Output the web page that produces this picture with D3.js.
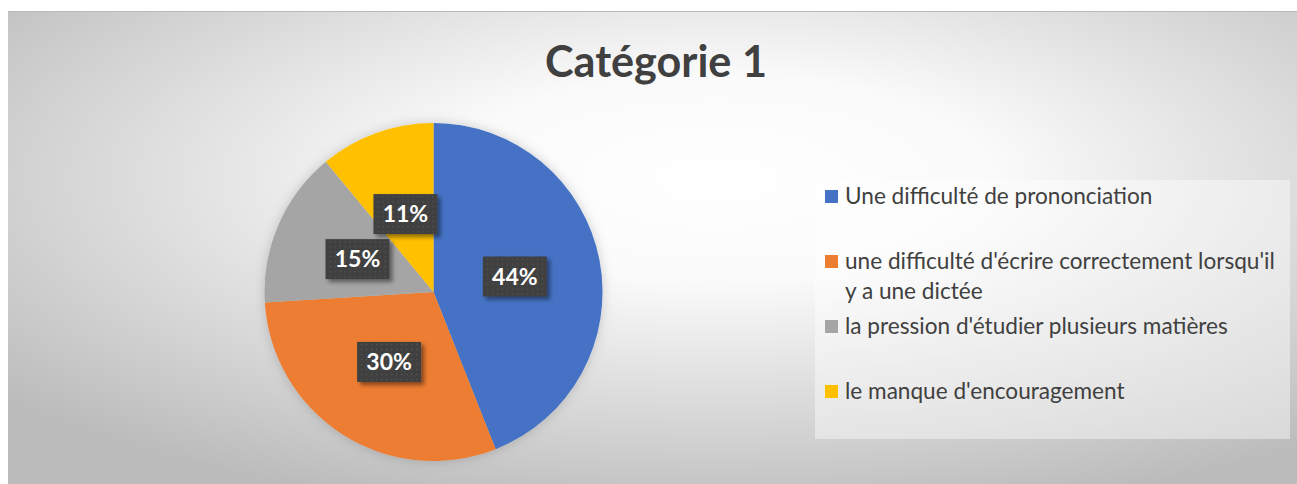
<!DOCTYPE html>
<html><head><meta charset="utf-8">
<script src="https://cdn.jsdelivr.net/npm/d3@7"></script>
<style>html,body{margin:0;padding:0;background:#fff;}svg{display:block;}</style>
</head><body>
<svg id="chart" width="1297" height="484"></svg>
<script>
const title = "Catégorie 1";
const categories = [
  "Une difficulté de prononciation",
  "une difficulté d'écrire correctement lorsqu'il y a une dictée",
  "la pression d'étudier plusieurs matières",
  "le manque d'encouragement"
];
const legendLines = [
  ["Une difficulté de prononciation"],
  ["une difficulté d'écrire correctement lorsqu'il", "y a une dictée"],
  ["la pression d'étudier plusieurs matières"],
  ["le manque d'encouragement"]
];
const values = [44, 30, 15, 11];
const colors = ["#4472C4", "#ED7D31", "#A5A5A5", "#FFC000"];

const FONT = "Lato, 'Open Sans', sans-serif";
const svg = d3.select("#chart");
const defs = svg.append("defs");

const bg = defs.append("radialGradient").attr("id", "bg")
  .attr("cx", "55%").attr("cy", "35%").attr("r", "72%");
bg.append("stop").attr("offset", "0").attr("stop-color", "#ffffff");
bg.append("stop").attr("offset", "0.3").attr("stop-color", "#fafafa");
bg.append("stop").attr("offset", "1").attr("stop-color", "#bbbbbb");

const pat = defs.append("pattern").attr("id", "dots").attr("patternUnits", "userSpaceOnUse")
  .attr("width", 5).attr("height", 5);
pat.append("rect").attr("width", 5).attr("height", 5).attr("fill", "#404040");
pat.append("rect").attr("x", 2).attr("y", 2).attr("width", 1.2).attr("height", 1.2).attr("fill", "#585858");

const sh = defs.append("filter").attr("id", "lblShadow").attr("x", "-20%").attr("y", "-20%").attr("width", "150%").attr("height", "160%");
sh.append("feDropShadow").attr("dx", 3).attr("dy", 3).attr("stdDeviation", 2).attr("flood-color", "#000").attr("flood-opacity", 0.45);

const pieSh = defs.append("filter").attr("id", "pieShadow").attr("x", "-20%").attr("y", "-20%").attr("width", "140%").attr("height", "140%");
pieSh.append("feDropShadow").attr("dx", 0).attr("dy", 0).attr("stdDeviation", 6).attr("flood-color", "#000").attr("flood-opacity", 0.18);

// chart area
svg.append("rect").attr("x", 8).attr("y", 11).attr("width", 1289).attr("height", 480)
  .attr("fill", "url(#bg)");
svg.append("line").attr("x1", 8).attr("x2", 1297).attr("y1", 11.5).attr("y2", 11.5)
  .attr("stroke", "#b8b8b8").attr("stroke-width", 1);

// title (fit to the reference width of ~222px)
const tt = svg.append("text").attr("x", 656).attr("y", 77).attr("text-anchor", "middle")
  .attr("font-family", FONT).attr("font-weight", "bold")
  .attr("font-size", 40).attr("fill", "#404040").text(title);
const tw = tt.node().getComputedTextLength();
tt.attr("font-size", 40 * 222 / tw);

// pie
const cx = 433.5, cy = 292, R = 169;
const pie = d3.pie().sort(null).value(d => d);
const arcs = pie(values);
const arc = d3.arc().innerRadius(0).outerRadius(R);
const labelArc = d3.arc().innerRadius(0).outerRadius(R * 0.98);
const g = svg.append("g").attr("transform", `translate(${cx},${cy})`);
g.append("g").attr("filter", "url(#pieShadow)")
  .selectAll("path").data(arcs).join("path")
  .attr("d", arc).attr("fill", (d, i) => colors[i]);

const total = d3.sum(values);
const fmt = d => Math.round(d / total * 100) + "%";
const lbl = g.selectAll("g.lbl").data(arcs).join("g").attr("class", "lbl")
  .attr("transform", d => { const c = labelArc.centroid(d); return `translate(${c[0]},${c[1]})`; });
lbl.append("rect").attr("x", -32).attr("y", -20).attr("width", 64).attr("height", 40)
  .attr("fill", "url(#dots)").attr("filter", "url(#lblShadow)");
lbl.append("text").attr("text-anchor", "middle").attr("dy", "0.36em")
  .attr("font-family", FONT).attr("font-weight", "bold")
  .attr("font-size", 23).attr("fill", "#ffffff").text(d => fmt(d.data));

// legend
svg.append("rect").attr("x", 815).attr("y", 180).attr("width", 475).attr("height", 259)
  .attr("fill", "#ffffff").attr("fill-opacity", 0.42);
const legendY = [190, 255, 320, 385];
const lg = svg.append("g").selectAll("g").data(categories).join("g")
  .attr("transform", (d, i) => `translate(825,${legendY[i]})`);
lg.append("rect").attr("width", 13).attr("height", 13).attr("fill", (d, i) => colors[i]);
const lt = lg.append("text").attr("x", 20).attr("y", 14)
  .attr("font-family", FONT).attr("font-size", 20).attr("fill", "#404040")
  .each(function(d, i) {
    const t = d3.select(this);
    legendLines[i].forEach((ln, j) => {
      t.append("tspan").attr("x", 20).attr("dy", j === 0 ? 0 : 30).text(ln);
    });
  });
// fit legend font so the third entry spans ~383px as in the reference
const lw = lt.filter((d, i) => i === 2).node().getComputedTextLength();
lt.attr("font-size", Math.min(23, 20 * 383 / lw));
</script>
</body></html>
